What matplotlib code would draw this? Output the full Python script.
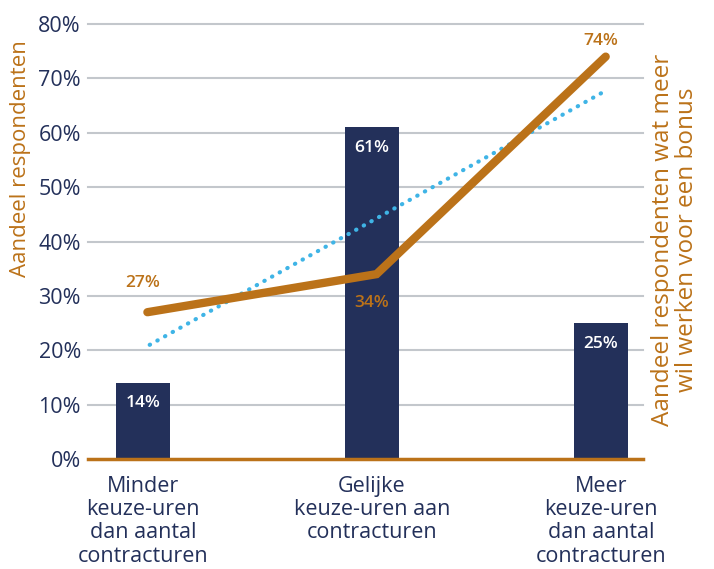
import numpy as np
import matplotlib.pyplot as plt

# gegevens
categorieen = ['Minder\nkeuze-uren\ndan aantal\ncontracturen',
               'Gelijke\nkeuze-uren aan\ncontracturen',
               'Meer\nkeuze-uren\ndan aantal\ncontracturen']
aandeel = [14, 61, 25]          # staven
bonus = [27, 34, 74]            # oranje lijn
trend_begin_eind = [21, 67.5]   # gestippelde trendlijn
y_ticks = [0, 10, 20, 30, 40, 50, 60, 70, 80]

navy = '#23305a'
oranje = '#bb7219'
blauw = '#3fb4e6'
grijs = '#c3c7cc'

plt.rcParams['font.family'] = ['Open Sans', 'DejaVu Sans']

fig = plt.figure(figsize=(7.14, 5.69), dpi=100)
ax = fig.add_axes([0.123, 0.1933, 0.7776, 0.7645])

x = np.arange(len(categorieen))

ax.set_ylim(0, 80)
ax.set_xlim(-0.24, 2.183)
ax.set_yticks(y_ticks)
ax.set_yticklabels([f'{t}%' for t in y_ticks])
for t in y_ticks[1:]:
    ax.axhline(t, color=grijs, lw=1.5, zorder=0, clip_on=False)

ax.bar(x, aandeel, width=0.236, color=navy, zorder=2)
for xi, v in zip(x, aandeel):
    ax.annotate(f'{v}%', (xi, v), xytext=(0, -9), textcoords='offset points',
                ha='center', va='top', color='white', fontsize=12.5,
                fontweight='semibold', zorder=5)

# trendlijn
ax.plot([x[0] + 0.03, x[-1] + 0.01], trend_begin_eind, color=blauw, lw=3,
        linestyle=(0, (0.1, 2.0)), dash_capstyle='round', zorder=3)

ax.plot(x + 0.02, bonus, color=oranje, lw=6, solid_capstyle='round',
        solid_joinstyle='miter', zorder=4)
offsets = [21, -21, 11.5]
for xi, v, off in zip(x, bonus, offsets):
    ax.annotate(f'{v}%', (xi, v), xytext=(0, off), textcoords='offset points',
                ha='center', va='center', color=oranje, fontsize=12.5,
                fontweight='semibold', zorder=5)

ax.set_xticks(x)
ax.set_xticklabels(categorieen, fontsize=15.5, color=navy, linespacing=1.15,
                   va='top')
ax.tick_params(axis='x', length=0, pad=12)
ax.tick_params(axis='y', length=0, pad=5, labelsize=15.5, labelcolor=navy)

for s in ['top', 'right', 'left']:
    ax.spines[s].set_visible(False)
ax.spines['bottom'].set_color(oranje)
ax.spines['bottom'].set_linewidth(2.5)
ax.spines['bottom'].set_zorder(6)

ax.set_ylabel('Aandeel respondenten', color=oranje, fontsize=16)
ax.yaxis.set_label_coords(-0.102, 0.69)
fig.text(0.946, 0.578, 'Aandeel respondenten wat meer\nwil werken voor een bonus',
         rotation=90, ha='center', va='center', color=oranje, fontsize=17.5,
         linespacing=1.0)

fig.savefig('out.png', dpi=100)
